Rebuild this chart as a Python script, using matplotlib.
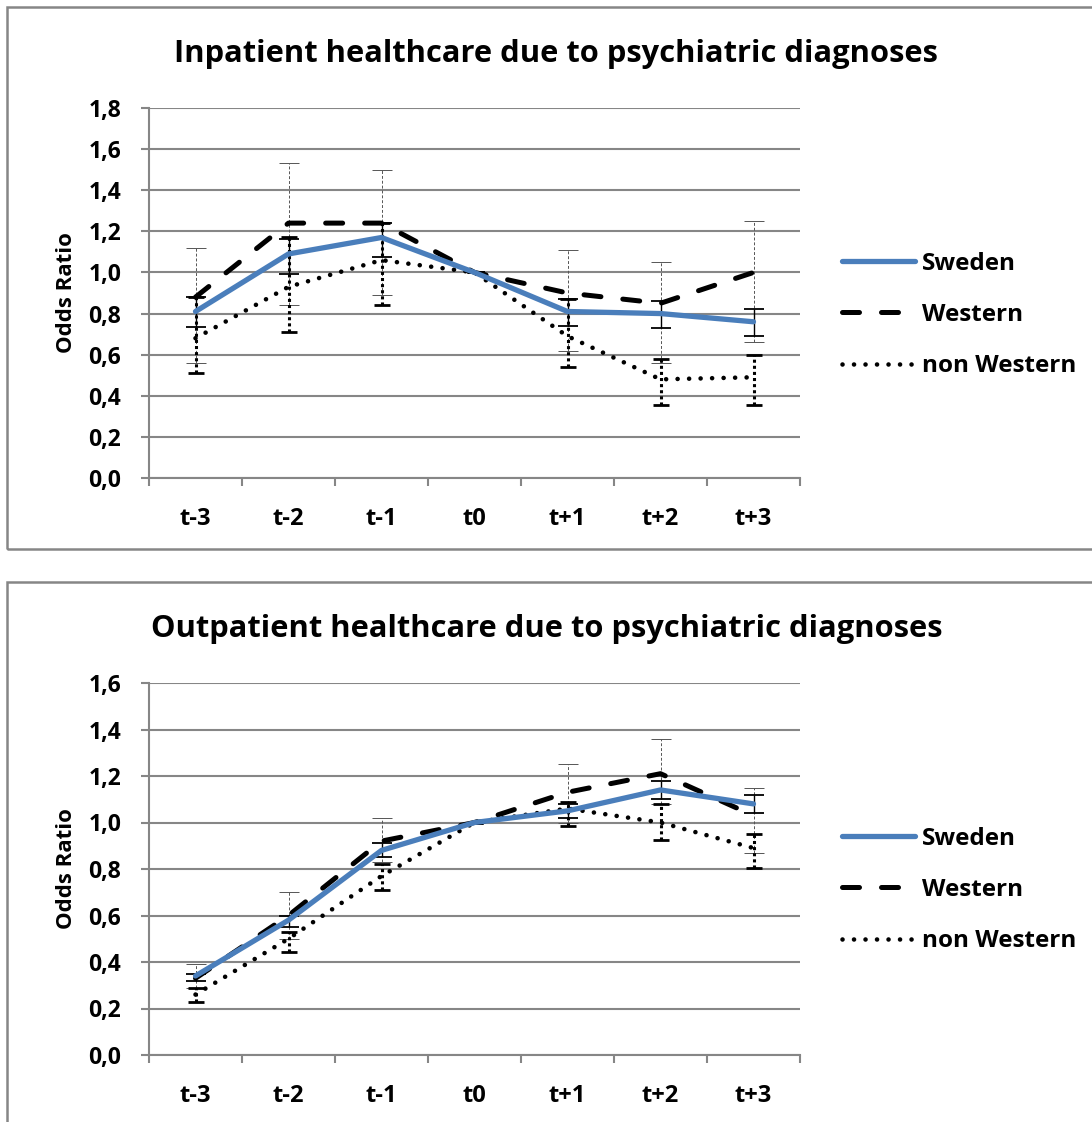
import numpy as np
import matplotlib
matplotlib.use("Agg")
import matplotlib.pyplot as plt
from matplotlib.patches import Rectangle
from matplotlib.ticker import FuncFormatter, FixedLocator

plt.rcParams["font.family"] = ["Open Sans", "DejaVu Sans"]
plt.rcParams["font.weight"] = "bold"

# ── data ────────────────────────────────────────────────────────────────────
periods = ["t-3", "t-2", "t-1", "t0", "t+1", "t+2", "t+3"]
series = ["Sweden", "Western", "non Western"]

# inpatient
in_sweden = [0.81, 1.09, 1.17, 1.00, 0.81, 0.80, 0.76]
in_sweden_lo = [0.735, 0.99, 1.075, 1.00, 0.74, 0.73, 0.69]
in_sweden_hi = [0.88, 1.165, 1.24, 1.00, 0.87, 0.86, 0.82]
in_western = [0.88, 1.24, 1.24, 1.00, 0.90, 0.85, 1.00]
in_western_lo = [0.56, 0.84, 0.89, 1.00, 0.62, 0.56, 0.66]
in_western_hi = [1.12, 1.53, 1.50, 1.00, 1.11, 1.05, 1.25]
in_nonwest = [0.68, 0.93, 1.06, 1.00, 0.69, 0.48, 0.49]
in_nonwest_lo = [0.51, 0.71, 0.84, 1.00, 0.54, 0.355, 0.355]
in_nonwest_hi = [0.88, 1.17, 1.24, 1.00, 0.87, 0.58, 0.60]

# outpatient
out_sweden = [0.34, 0.58, 0.88, 1.00, 1.05, 1.14, 1.08]
out_sweden_lo = [0.32, 0.55, 0.85, 1.00, 1.02, 1.10, 1.04]
out_sweden_hi = [0.35, 0.60, 0.91, 1.00, 1.08, 1.18, 1.12]
out_western = [0.33, 0.60, 0.92, 1.00, 1.13, 1.21, 1.03]
out_western_lo = [0.29, 0.50, 0.83, 1.00, 1.00, 1.08, 0.87]
out_western_hi = [0.39, 0.70, 1.02, 1.00, 1.25, 1.36, 1.15]
out_nonwest = [0.26, 0.50, 0.77, 1.00, 1.06, 1.00, 0.89]
out_nonwest_lo = [0.23, 0.445, 0.71, 1.00, 0.985, 0.925, 0.805]
out_nonwest_hi = [0.29, 0.53, 0.82, 1.00, 1.09, 1.08, 0.95]

SWEDEN_BLUE = "#4A7EBB"
GRID = "#868686"

W, H = 1092, 1122
fig = plt.figure(figsize=(W / 100, H / 100), dpi=100)


def fx(px):
    return px / W


def fy(py):
    return 1 - py / H


def comma(v, _):
    return f"{v:.1f}".replace(".", ",")


def panel(top, bottom, ax_top, ax_bot, ymax, title, title_x, data):
    # outer frame of the chart object
    fig.patches.append(Rectangle((fx(7), fy(bottom)), fx(W - 7 + 5), fy(top) - fy(bottom),
                                 transform=fig.transFigure, fill=False,
                                 edgecolor=GRID, lw=1.8))
    ax = fig.add_axes([fx(149), fy(ax_bot), fx(800) - fx(149), fy(ax_top) - fy(ax_bot)])
    x = np.arange(len(periods))

    (s, s_lo, s_hi), (w, w_lo, w_hi), (n, n_lo, n_hi) = data

    def yerr(v, lo, hi):
        v, lo, hi = map(np.asarray, (v, lo, hi))
        return np.vstack([v - lo, hi - v])

    # error bars
    e = ax.errorbar(x, w, yerr=yerr(w, w_lo, w_hi), fmt="none", ecolor="#555555",
                    elinewidth=0.7, capsize=7, capthick=0.7, zorder=2)
    e[2][0].set_linestyle((0, (3, 2)))
    e = ax.errorbar(x, n, yerr=yerr(n, n_lo, n_hi), fmt="none", ecolor="black",
                    elinewidth=2.2, capsize=6, capthick=2.2, zorder=2)
    e[2][0].set_linestyle((0, (1, 1)))
    for c in e[1]:
        c.set_markeredgewidth(2)
    ax.errorbar(x, s, yerr=yerr(s, s_lo, s_hi), fmt="none", ecolor="black",
                elinewidth=1.0, capsize=7, capthick=1.3, zorder=2)

    ax.plot(x, s, color=SWEDEN_BLUE, lw=3.8, solid_capstyle="round",
            solid_joinstyle="round", label=series[0], zorder=4)
    ax.plot(x, w, color="black", lw=3.6, dashes=(3.4, 4.4), dash_capstyle="round",
            label=series[1], zorder=3)
    ax.plot(x, n, color="black", lw=3.3, dashes=(0.01, 2.5), dash_capstyle="round",
            label=series[2], zorder=3)

    ax.set_xlim(-0.5, len(periods) - 0.5)
    ax.set_ylim(0, ymax)
    ax.set_yticks(np.arange(0, ymax + 0.01, 0.2))
    ax.yaxis.set_major_formatter(FuncFormatter(comma))
    ax.set_xticks(x)
    ax.set_xticklabels(periods)
    ax.xaxis.set_minor_locator(FixedLocator(np.arange(-0.5, len(periods), 1.0)))
    ax.tick_params(axis="x", which="major", length=0, pad=21, labelsize=17)
    ax.tick_params(axis="x", which="minor", length=6, width=1.5, color=GRID)
    ax.tick_params(axis="y", length=6, width=1.5, color=GRID, pad=14, labelsize=16.5)
    for lab in ax.get_xticklabels() + ax.get_yticklabels():
        lab.set_fontweight("bold")

    ax.grid(axis="y", color=GRID, lw=1.5)
    ax.set_axisbelow(True)
    for side in ("top", "right"):
        ax.spines[side].set_visible(False)
    for side in ("left", "bottom"):
        ax.spines[side].set_color(GRID)
        ax.spines[side].set_linewidth(1.5)

    ax.set_ylabel("Odds Ratio", fontsize=16, fontweight="bold", labelpad=8)
    fig.text(fx(title_x), fy(top + 47), title, ha="center", va="center",
             fontsize=22.2, fontweight="bold")

    ax.legend(loc="upper left", bbox_to_anchor=(fx(832), fy(ax_top + 134)),
              bbox_transform=fig.transFigure, frameon=False,
              prop={"size": 17.5, "weight": "bold"}, handlelength=3.0,
              handletextpad=0.3, labelspacing=1.12, borderaxespad=0)
    return ax


panel(7, 549, 108, 478, 1.8, "Inpatient healthcare due to psychiatric diagnoses", 556,
      [(in_sweden, in_sweden_lo, in_sweden_hi),
       (in_western, in_western_lo, in_western_hi),
       (in_nonwest, in_nonwest_lo, in_nonwest_hi)])

panel(582, H + 10, 683, 1055, 1.6, "Outpatient healthcare due to psychiatric diagnoses", 547,
      [(out_sweden, out_sweden_lo, out_sweden_hi),
       (out_western, out_western_lo, out_western_hi),
       (out_nonwest, out_nonwest_lo, out_nonwest_hi)])

fig.savefig("out.png", dpi=100)
